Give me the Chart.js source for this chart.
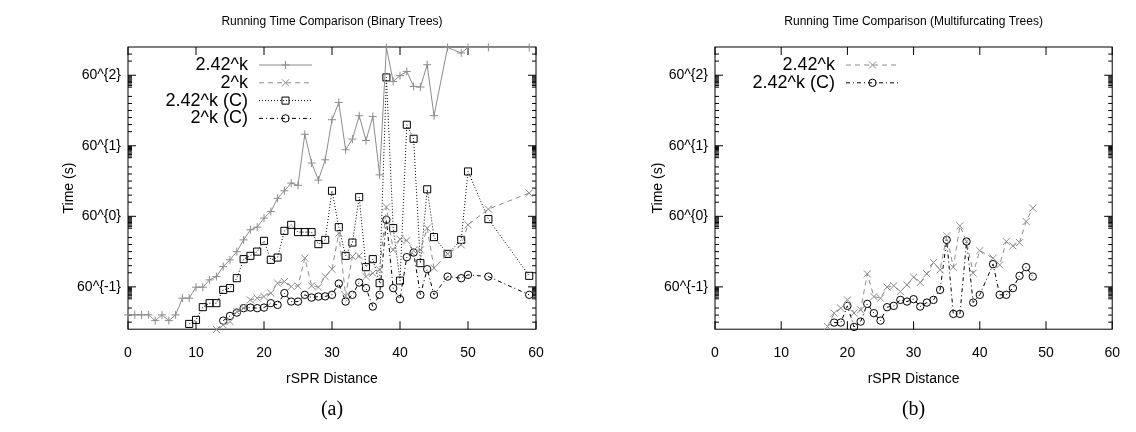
<!DOCTYPE html>
<html>
<head>
<meta charset="utf-8">
<title>Running Time Comparison</title>
<script src="https://cdn.jsdelivr.net/npm/chart.js@4.4.1/dist/chart.umd.min.js"></script>
<style>
  html, body { margin: 0; padding: 0; background: #fff; }
  #wrap { position: relative; width: 1136px; height: 432px; }
  .panel { position: absolute; top: 0; width: 568px; height: 432px; }
  #panelA { left: 0; }
  #panelB { left: 568px; }
</style>
</head>
<body>
<div id="wrap">
  <div class="panel" id="panelA"><canvas id="chartA" width="568" height="432"></canvas></div>
  <div class="panel" id="panelB"><canvas id="chartB" width="568" height="432"></canvas></div>
</div>
<script>
// ---- Binary trees: running time (s) against rSPR distance ----
const binDist242 = [0,1,2,3,4,5,6,7,8,9,10,11,12,13,14,15,16,17,18,19,20,21,22,23,24,25,26,27,28,29,30,31,32,33,34,35,36,37,38,39,40,41,42,43,44,45,47,49,50,53,59];
const binTime242 = [0.00328,0.00328,0.00328,0.00328,0.00235,0.00328,0.00235,0.00328,0.00865,0.00865,0.0164,0.0164,0.025,0.0303,0.0542,0.08,0.129,0.255,0.457,0.534,0.901,1.32,2.84,4.4,6.88,6.05,117,22.0,8.18,26.6,272,741,47.6,88.5,343,81.6,329,11.1,18000,2510,3500,4490,1880,1815,6620,343,18000,13100,18000,18000,18000];

const binDist2 = [13,14,15,16,17,18,19,20,21,22,23,24,25,26,27,28,29,30,31,32,33,34,35,36,37,38,39,40,41,42,43,44,45,47,49,50,53,59];
const binTime2 = [0.0014,0.00183,0.00222,0.00397,0.00484,0.00783,0.00865,0.00949,0.0116,0.0207,0.0227,0.017,0.0177,0.0883,0.0177,0.0164,0.0303,0.0466,0.377,0.00988,0.0968,0.101,0.0303,0.0369,0.0448,1.71,0.143,0.266,0.245,0.137,0.143,0.504,0.0494,0.113,0.191,0.61,1.52,3.85];

const binDist242C = [9,10,11,12,13,14,15,16,17,18,19,20,21,22,23,24,25,26,27,28,29,30,31,32,33,34,35,36,37,38,39,40,41,42,43,44,45,47,49,50,53,59];
const binTime242C = [0.00194,0.00245,0.00513,0.00647,0.00647,0.014,0.0155,0.0276,0.0833,0.101,0.129,0.241,0.08,0.0914,0.431,0.61,0.4,0.4,0.4,0.199,0.255,4.4,0.534,0.101,0.218,3.05,0.0523,0.0833,0.0207,3170,0.504,0.024,203,90.1,0.066,4.8,0.299,0.113,0.255,13.5,0.85,0.0316];

const binDist2C = [14,15,16,17,18,19,20,21,22,23,24,25,26,27,28,29,30,31,32,33,34,35,36,37,38,39,40,41,42,43,44,45,47,49,50,53,59];
const binTime2C = [0.00235,0.00309,0.00375,0.00484,0.00501,0.00484,0.00501,0.00647,0.00586,0.0116,0.0071,0.0071,0.0105,0.00895,0.00949,0.0096,0.0105,0.0202,0.0071,0.0105,0.0214,0.0155,0.00531,0.0105,0.816,0.0155,0.00816,0.0935,0.122,0.0105,0.0466,0.0105,0.0303,0.0276,0.0335,0.0303,0.0105];

// ---- Multifurcating trees ----
const mulDist242 = [17,18,19,20,21,22,23,24,25,26,27,28,29,30,31,32,33,34,35,36,37,38,39,40,42,43,44,45,46,47,48];
const mulTime242 = [0.00166,0.00362,0.00484,0.00783,0.00362,0.00438,0.0355,0.00949,0.00865,0.0164,0.0177,0.0127,0.0187,0.0293,0.0214,0.0355,0.0684,0.0448,0.322,0.0523,0.576,0.231,0.0369,0.137,0.0883,0.0598,0.231,0.18,0.218,0.74,1.61];

const mulDist242C = [18,19,20,21,22,23,24,25,26,27,28,29,30,31,32,33,34,35,36,37,38,39,40,42,43,44,45,46,47,48];
const mulTime242C = [0.0021,0.0021,0.00553,0.00163,0.00222,0.00621,0.00362,0.00235,0.00513,0.00553,0.00783,0.0071,0.00816,0.00531,0.0067,0.00783,0.014,0.255,0.00347,0.00347,0.231,0.0067,0.0105,0.0623,0.0105,0.0105,0.0155,0.0316,0.0523,0.0303];

// ---- Axes ----
const xTickStep = 10;
const yLogMin = -1.6, yLogMax = 2.4;     // axis range as powers of 60
const minorSparse = [0.2, 0.3, 0.4, 0.5, 0.6, 0.7];            // fractions of a decade
const minorDense = [30, 33, 36, 39, 42, 45, 48, 51, 54, 57];   // multiples of 60^n

const LN60 = Math.log(60);
const FONT = '"Liberation Sans", Arial, Helvetica, sans-serif';
const GREY = '#8c8c8c';

function pairs(xs, ys) { return xs.map((x, i) => ({ x: x, y: ys[i] })); }
function pow60(e) { return Math.exp(e * LN60); }
function isPow60(v) { const e = Math.log(v) / LN60; return Math.abs(e - Math.round(e)) < 1e-6; }

function buildYTicks(scale) {
  const lo = pow60(yLogMin), hi = pow60(yLogMax);
  const list = [];
  for (let n = Math.floor(yLogMin); n <= Math.ceil(yLogMax); n++) {
    const base = pow60(n);
    if (base >= lo && base <= hi) list.push({ value: base });
    minorSparse.forEach(f => { const v = pow60(n + f); if (v > lo && v < hi) list.push({ value: v }); });
    minorDense.forEach(k => { const v = base * k; if (v > lo && v < hi) list.push({ value: v }); });
  }
  list.sort((a, b) => a.value - b.value);
  scale.ticks = list;
}

// Border box with gnuplot-style inward tick marks on all four sides
const framePlugin = {
  id: 'frame',
  beforeDatasetsDraw(chart) {
    const { ctx, chartArea: a, scales: { x, y } } = chart;
    ctx.save();
    ctx.strokeStyle = '#000';
    ctx.lineWidth = 1;
    ctx.beginPath();
    x.ticks.forEach(t => {
      const px = x.getPixelForValue(t.value);
      ctx.moveTo(px, a.bottom); ctx.lineTo(px, a.bottom - 8);
      ctx.moveTo(px, a.top); ctx.lineTo(px, a.top + 8);
    });
    y.ticks.forEach(t => {
      const len = isPow60(t.value) ? 8 : 4;
      const py = y.getPixelForValue(t.value);
      ctx.moveTo(a.left, py); ctx.lineTo(a.left + len, py);
      ctx.moveTo(a.right, py); ctx.lineTo(a.right - len, py);
    });
    ctx.stroke();
    ctx.strokeRect(a.left, a.top, a.right - a.left, a.bottom - a.top);
    ctx.restore();
  }
};

// Key drawn inside the plot: right-justified label, then a line sample with its symbol
const keyPlugin = {
  id: 'gnuKey',
  afterDatasetsDraw(chart) {
    const { ctx, chartArea: a } = chart;
    chart.data.datasets.forEach((ds, i) => {
      const yy = a.top + 18 + i * 17.8;
      ctx.save();
      ctx.font = '18px ' + FONT;
      ctx.fillStyle = '#000';
      ctx.textAlign = 'right';
      ctx.textBaseline = 'middle';
      ctx.fillText(ds.label, a.left + 120, yy);
      ctx.strokeStyle = ds.borderColor;
      ctx.lineWidth = ds.borderWidth;
      ctx.setLineDash(ds.borderDash || []);
      ctx.beginPath();
      ctx.moveTo(a.left + 131, yy);
      ctx.lineTo(a.left + 184, yy);
      ctx.stroke();
      ctx.setLineDash([]);
      ctx.strokeStyle = ds.pointBorderColor;
      ctx.fillStyle = 'rgba(0,0,0,0)';
      Chart.helpers.drawPoint(ctx, { pointStyle: ds.pointStyle, radius: ds.pointRadius, borderWidth: 1, rotation: 0 }, a.left + 157.5, yy);
      ctx.restore();
    });
  }
};

function series(label, xs, ys, color, dash, style, radius) {
  return {
    label: label,
    data: pairs(xs, ys),
    borderColor: color,
    borderWidth: 1,
    borderDash: dash,
    pointStyle: style,
    pointRadius: radius,
    pointBorderColor: color,
    pointBackgroundColor: 'rgba(0,0,0,0)',
    pointBorderWidth: 1,
    pointHoverRadius: radius,
    fill: false,
    tension: 0,
    clip: false
  };
}

function makeChart(canvasId, titleText, caption, datasets, yAxisWidth, yTitlePad, rightPad) {
  return new Chart(document.getElementById(canvasId), {
    type: 'line',
    data: { datasets: datasets },
    plugins: [framePlugin, keyPlugin],
    options: {
      responsive: false,
      animation: false,
      events: [],
      layout: { padding: { left: 0, right: rightPad, top: 0, bottom: 0 } },
      plugins: {
        legend: { display: false },
        tooltip: { enabled: false },
        title: {
          display: true, text: titleText, fullSize: false, color: '#000',
          font: { family: FONT, size: 12, weight: 'normal', lineHeight: 1.2 },
          padding: { top: 14.4, bottom: 18.2 }
        },
        subtitle: {
          display: true, text: caption, position: 'bottom', fullSize: false, color: '#000',
          font: { family: '"Liberation Serif", "DejaVu Serif", serif', size: 20, weight: 'normal', lineHeight: 1.0 },
          padding: { top: 0, bottom: 12 }
        }
      },
      scales: {
        x: {
          type: 'linear', min: 0, max: 60,
          grid: { display: false, drawTicks: false }, border: { display: false },
          ticks: { stepSize: xTickStep, color: '#000', padding: 16, font: { family: FONT, size: 14 } },
          title: { display: true, text: 'rSPR Distance', color: '#000', font: { family: FONT, size: 14 }, padding: { top: 0, bottom: 12.4 } },
          afterFit(s) { s.height = 70.8; }
        },
        y: {
          type: 'logarithmic', min: pow60(yLogMin), max: pow60(yLogMax), bounds: 'data',
          grid: { display: false, drawTicks: false }, border: { display: false },
          afterBuildTicks: buildYTicks,
          ticks: {
            autoSkip: false, color: '#000', padding: 7, font: { family: FONT, size: 14 },
            callback: v => isPow60(v) ? '60^{' + Math.round(Math.log(v) / LN60) + '}' : ''
          },
          title: { display: true, text: 'Time (s)', color: '#000', font: { family: FONT, size: 14 }, padding: { top: yTitlePad, bottom: 0 } },
          afterFit(s) { s.width = yAxisWidth; }
        }
      }
    }
  });
}

makeChart('chartA', 'Running Time Comparison (Binary Trees)', '(a)', [
  series('2.42^k', binDist242, binTime242, GREY, [], 'cross', 4),
  series('2^k', binDist2, binTime2, GREY, [5, 4], 'crossRot', 5),
  series('2.42^k (C)', binDist242C, binTime242C, '#000', [1, 2], 'rect', 5),
  series('2^k (C)', binDist2C, binTime2C, '#000', [4, 3, 1, 3], 'circle', 3.7)
], 128, 60.6, 32);

makeChart('chartB', 'Running Time Comparison (Multifurcating Trees)', '(b)', [
  series('2.42^k', mulDist242, mulTime242, GREY, [5, 4], 'crossRot', 5),
  series('2.42^k (C)', mulDist242C, mulTime242C, '#000', [4, 3, 1, 3], 'circle', 3.7)
], 147, 82, 11);
</script>
</body>
</html>
